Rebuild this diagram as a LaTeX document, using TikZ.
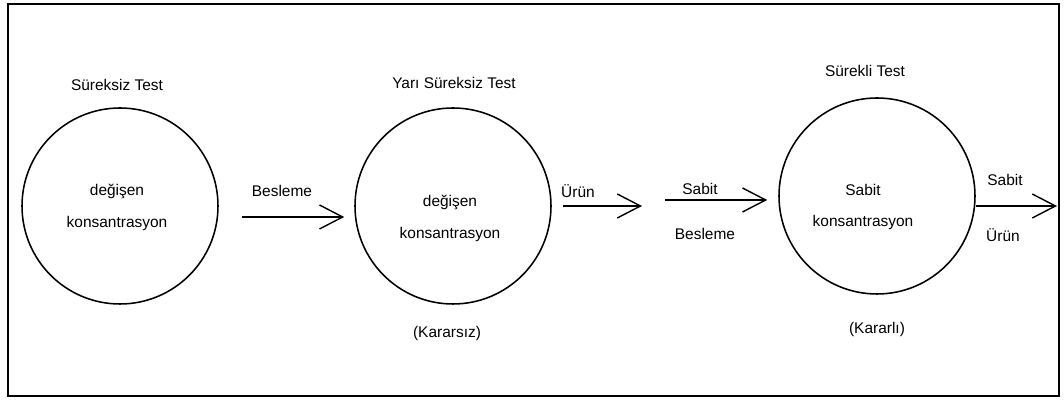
\documentclass[tikz,border=0pt]{standalone}
\usepackage{fontspec}
\setmainfont{Liberation Sans}
\usetikzlibrary{arrows.meta}
\begin{document}
\begin{tikzpicture}[
    tank/.style={draw, circle, line width=1.1pt, minimum size=4.9cm, inner sep=0pt},
    lbl/.style={font=\fontsize{11}{13.2}\selectfont, inner sep=1pt},
    inlbl/.style={lbl, align=center},
    flow/.style={line width=1pt, -{Straight Barb[length=0.58cm, width=0.6cm, line width=1pt]}}
  ]
    \useasboundingbox (0,0) rectangle (26.6,10.025);
    \draw[line width=1.5pt] (0.2,0.125) rectangle (26.475,9.925);
    \node[tank] (c1) at (3.0, 4.875) {};
    \node[tank] (c2) at (11.325, 4.875) {};
    \node[tank] (c3) at (21.925, 5.125) {};
    \node[lbl] (t1) at (2.925, 7.9) {Süreksiz Test};
    \node[lbl] (t2) at (11.35, 7.95) {Yarı Süreksiz Test};
    \node[lbl] (t3) at (21.625, 8.25) {Sürekli Test};
    \node[inlbl] (k1) at (2.925, 4.85) {değişen\\[9.5pt] konsantrasyon};
    \node[inlbl] (k2) at (11.25, 4.575) {değişen\\[9.5pt] konsantrasyon};
    \node[inlbl] (k3) at (21.575, 4.85) {Sabit\\[9.5pt] konsantrasyon};
    \node[lbl] (d2) at (11.175, 1.675) {(Kararsız)};
    \node[lbl] (d3) at (21.925, 1.775) {(Kararlı)};
    \coordinate (u2) at (16.05, 4.875);
    \coordinate (b3) at (16.625, 5.025);
    \coordinate (u3) at (26.425, 4.875);
    \draw[flow] ([xshift=0.575cm, yshift=-0.275cm]c1.east) -- ([xshift=-0.25cm, yshift=-0.275cm]c2.west);
    \draw[flow] ([xshift=0.275cm]c2.east) -- (u2);
    \draw[flow] (b3) -- ([xshift=-0.275cm, yshift=-0.1cm]c3.west);
    \draw[flow] ([yshift=-0.25cm]c3.east) -- (u3);
    \node[lbl] (f1) at (7.05, 5.25) {Besleme};
    \node[lbl] (f2) at (14.45, 5.25) {Ürün};
    \node[lbl] (f3a) at (17.5, 5.3) {Sabit};
    \node[lbl] (f3b) at (17.625, 4.175) {Besleme};
    \node[lbl] (f4a) at (25.125, 5.525) {Sabit};
    \node[lbl] (f4b) at (25.075, 4.15) {Ürün};
\end{tikzpicture}
\end{document}
